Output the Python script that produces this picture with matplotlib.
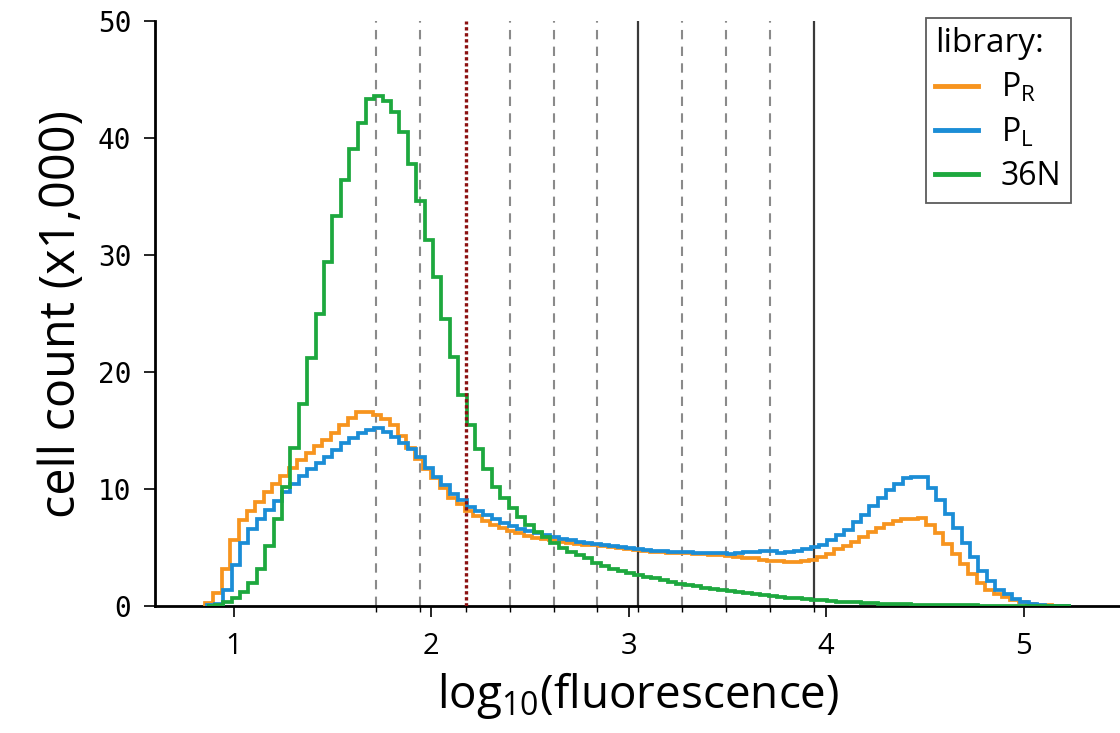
import numpy as np
import matplotlib
matplotlib.use("Agg")
import matplotlib.pyplot as plt
from matplotlib.lines import Line2D

plt.rcParams['mathtext.default'] = 'regular'

# ---- data (cell counts in thousands per log10 bin) ----
bin_start = 0.861
bin_width = 0.0425

pr_counts = [0.23, 1.08, 3.2, 5.6, 7.35, 8.1, 8.9, 9.7, 10.4, 11.1,
             11.8, 12.5, 13.1, 13.7, 14.2, 14.8, 15.5, 16.1, 16.55, 16.6,
             16.35, 16.0, 15.5, 14.5, 13.5, 12.6, 11.7, 10.9, 10.05, 9.25,
             8.7, 8.1, 7.7, 7.3, 6.95, 6.65, 6.4, 6.2, 6.0, 5.85,
             5.7, 5.6, 5.48, 5.38, 5.3, 5.25, 5.2, 5.15, 5.05, 4.95,
             4.85, 4.78, 4.68, 4.62, 4.58, 4.55, 4.52, 4.5, 4.47, 4.42,
             4.38, 4.35, 4.28, 4.2, 4.14, 4.07, 3.97, 3.88, 3.82, 3.79,
             3.79, 3.85, 3.95, 4.15, 4.45, 4.85, 5.13, 5.5, 5.9, 6.3,
             6.65, 7.0, 7.3, 7.45, 7.45, 7.5, 6.9, 6.2, 5.3, 4.4,
             3.6, 2.7, 1.95, 1.4, 1.0, 0.78, 0.53, 0.32, 0.2, 0.11,
             0.06, 0.03, 0.01]

pl_counts = [0.05, 0.2, 1.4, 3.5, 5.4, 6.6, 7.4, 8.2, 9.0, 9.7,
             10.4, 11.1, 11.7, 12.2, 12.7, 13.3, 13.9, 14.4, 14.8, 15.05,
             15.2, 14.9, 14.45, 13.95, 13.4, 12.7, 11.8, 11.0, 10.35, 9.6,
             9.1, 8.5, 8.1, 7.75, 7.4, 7.1, 6.85, 6.6, 6.4, 6.2,
             6.05, 5.9, 5.75, 5.6, 5.5, 5.4, 5.3, 5.2, 5.1, 5.0,
             4.95, 4.9, 4.8, 4.72, 4.66, 4.62, 4.6, 4.58, 4.56, 4.54,
             4.52, 4.5, 4.4, 4.55, 4.64, 4.64, 4.72, 4.72, 4.5, 4.6,
             4.73, 4.9, 5.0, 5.2, 5.6, 6.07, 6.5, 7.15, 7.8, 8.55,
             9.2, 9.9, 10.4, 10.9, 11.05, 11.05, 10.06, 9.06, 7.9, 6.7,
             5.4, 4.2, 3.0, 2.1, 1.4, 1.0, 0.63, 0.38, 0.2, 0.09,
             0.04, 0.01, 0.0]

n36_counts = [0.0, 0.05, 0.3, 0.7, 1.2, 2.0, 3.2, 5.1, 7.4, 10.2,
              13.5, 17.3, 21.2, 25.0, 29.4, 33.3, 36.4, 39.1, 41.3, 43.3,
              43.6, 43.2, 42.2, 40.5, 37.8, 34.6, 31.3, 28.1, 24.5, 21.3,
              18.0, 15.5, 13.4, 11.7, 10.2, 9.2, 8.4, 7.6, 6.9, 6.35,
              5.9, 5.4, 4.95, 4.6, 4.35, 4.1, 3.7, 3.4, 3.15, 3.0,
              2.85, 2.65, 2.5, 2.35, 2.2, 2.05, 1.92, 1.8, 1.68, 1.57,
              1.47, 1.37, 1.27, 1.18, 1.09, 1.0, 0.92, 0.85, 0.78, 0.71,
              0.65, 0.59, 0.53, 0.48, 0.43, 0.38, 0.34, 0.3, 0.27, 0.24,
              0.21, 0.18, 0.16, 0.14, 0.12, 0.1, 0.09, 0.08, 0.07, 0.06,
              0.05, 0.045, 0.04, 0.035, 0.03, 0.025, 0.02, 0.015, 0.01, 0.008,
              0.005, 0.0, 0.0]

series_labels = ["P$_{R}$", "P$_{L}$", "36N"]
series_colors = ["#F7941E", "#1B8DD6", "#1DA83E"]

dashed_gates = [1.719, 1.941, 2.397, 2.619, 2.841, 3.269, 3.491, 3.716]
solid_gates = [3.047, 3.938]
red_gate = 2.175

xticks = [1, 2, 3, 4, 5]
yticks = [0, 10, 20, 30, 40, 50]

# ---- figure ----
fig = plt.figure(figsize=(11.2, 7.33), dpi=100)
ax = fig.add_axes([0.1384, 0.1733, 0.8636, 0.798])

n = len(pr_counts)
edges = bin_start + bin_width * np.arange(n + 1)

for g in dashed_gates:
    ax.axvline(g, color="#8a8a8a", lw=1.5, ls=(0, (4.5, 3.5)), zorder=1)
for g in solid_gates:
    ax.axvline(g, color="#3a3a3a", lw=1.6, zorder=1)

for counts, lab, col in zip([pr_counts, pl_counts, n36_counts], series_labels, series_colors):
    ax.stairs(counts, edges - (0.008 if lab == series_labels[0] else 0.0),
              color=col, lw=2.7, label=lab, zorder=3)

ax.axvline(red_gate, color="#8B1010", lw=2.4, ls=(0, (1, 0.8)), zorder=4)

ax.set_xlim(0.6, 5.5)
ax.set_ylim(0, 50)

ax.spines['top'].set_visible(False)
ax.spines['right'].set_visible(False)
ax.spines['left'].set_linewidth(2)
ax.spines['bottom'].set_linewidth(2)

ax.set_xticks(xticks)
ax.set_xticks(dashed_gates + solid_gates + [red_gate], minor=True)
ax.set_yticks(yticks)
ax.tick_params(axis='both', which='major', direction='out', length=8, width=1.2)
ax.tick_params(axis='x', which='minor', direction='out', length=4, width=1.0)
ax.tick_params(axis='x', which='major', pad=11)
ax.tick_params(axis='y', which='major', pad=9)

for t in ax.get_xticklabels():
    t.set_fontfamily("Open Sans")
    t.set_fontsize(21)
for t in ax.get_yticklabels():
    t.set_fontfamily("DejaVu Sans Mono")
    t.set_fontsize(20)

ax.set_xlabel("log$_{10}$(fluorescence)", fontsize=33, family="Open Sans", labelpad=6)
ax.set_ylabel("cell count (x1,000)", fontsize=35, family="Open Sans", labelpad=8)

handles = [Line2D([0], [0], color=c, lw=3.5) for c in series_colors]
leg = ax.legend(handles, series_labels, title="library:", loc="upper right",
                bbox_to_anchor=(0.947, 1.006), frameon=True, fancybox=False,
                prop={"family": "Open Sans", "size": 23},
                handlelength=1.35, handletextpad=0.7, labelspacing=0.35,
                borderpad=0.3, borderaxespad=0.0, alignment="left")
leg.get_title().set_fontfamily("Open Sans")
leg.get_title().set_fontsize(24)
leg.get_frame().set_edgecolor("#333333")
leg.get_frame().set_linewidth(1.3)

fig.savefig("out.png", dpi=100)
